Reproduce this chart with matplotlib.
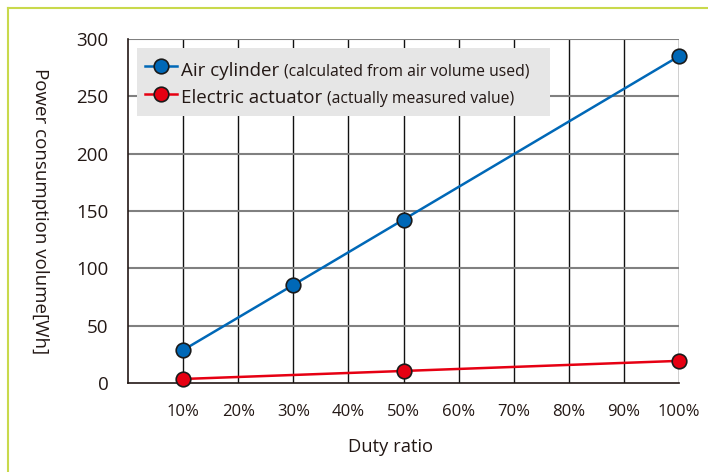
import matplotlib
matplotlib.use("Agg")
import matplotlib.pyplot as plt
from matplotlib.lines import Line2D
from matplotlib.offsetbox import AnchoredOffsetbox, HPacker, VPacker, TextArea, DrawingArea

plt.rcParams['font.family'] = ['Open Sans', 'DejaVu Sans']

duty = [10, 30, 50, 100]
air = [28.7, 85.5, 142.5, 285]
duty_e = [10, 50, 100]
electric = [3.5, 10.5, 19.3]
x_ticks = list(range(0, 101, 10))
x_labels = [''] + [f'{v}%' for v in range(10, 101, 10)]
y_ticks = [0, 50, 100, 150, 200, 250, 300]

BLUE = '#0068b7'
RED = '#e60012'
TXT = '#231815'

fig = plt.figure(figsize=(7.08, 4.72), dpi=100)
bx, by = 7.5 / 708, 1 - 7.5 / 472
fig.lines.append(Line2D([bx, 1], [by, by], transform=fig.transFigure, color='#c9d94c', lw=1.5))
fig.lines.append(Line2D([bx, bx], [0, by], transform=fig.transFigure, color='#c9d94c', lw=1.5))

ax = fig.add_axes([128/708, 1 - 383/472, (679 - 128)/708, (383 - 39)/472])

ax.set_xlim(0, 100)
ax.set_ylim(0, 300)
ax.set_xticks(x_ticks)
ax.set_xticklabels(x_labels)
ax.set_yticks(y_ticks)
ax.tick_params(axis='both', length=0, colors=TXT)
ax.tick_params(axis='x', pad=15, labelsize=12)
ax.tick_params(axis='y', pad=14, labelsize=13.5)
for v in x_ticks[1:]:
    ax.axvline(v, color='#111111', lw=1.0, zorder=1)
for v in y_ticks[1:]:
    ax.axhline(v, color='#808080', lw=1.5, zorder=1)
for s in ['top', 'right']:
    ax.spines[s].set_visible(False)
for s in ['left', 'bottom']:
    ax.spines[s].set_color(TXT)
    ax.spines[s].set_linewidth(1.2)

ax.plot(duty, air, color=BLUE, lw=1.8, marker='o', ms=10.5, mfc=BLUE,
        mec='#1a1a1a', mew=1.2, clip_on=False, zorder=5)
ax.plot(duty_e, electric, color=RED, lw=1.8, marker='o', ms=10.5, mfc=RED,
        mec='#1a1a1a', mew=1.2, clip_on=False, zorder=5)

ax.set_xlabel('Duty ratio', fontsize=13.2, color=TXT)
ax.xaxis.set_label_coords((390 - 128) / 551, -(447 - 383) / 344)
ax.xaxis.label.set_va('center')
ax.set_ylabel('Power consumption volume[Wh]', fontsize=13.5, rotation=270, color=TXT)
ax.yaxis.set_label_coords(-(128 - 40) / 551, 0.5)
ax.yaxis.label.set_va('center')

def row(color, main, paren, extra):
    da = DrawingArea(23, 14, 0, 0)
    da.add_artist(Line2D([0, 23], [7, 7], color=color, lw=1.8))
    da.add_artist(Line2D([11.5], [7], marker='o', ms=10.5, mfc=color, mec='#1a1a1a', mew=1.2))
    t1 = TextArea(main, textprops=dict(fontsize=13.5, color=TXT))
    t2 = TextArea(paren, textprops=dict(fontsize=11.3, color=TXT))
    kids = [da, t1, t2]
    if extra:
        kids.append(DrawingArea(extra, 1, 0, 0))
    return HPacker(children=kids, align='baseline', pad=0, sep=3)

box = VPacker(children=[row(BLUE, 'Air cylinder', '(calculated from air volume used)', 6),
                        row(RED, 'Electric actuator', '(actually measured value)', 0)],
              align='left', pad=0, sep=3)
anch = AnchoredOffsetbox(loc='upper left', child=box, pad=0.6, borderpad=0.65,
                         frameon=True, bbox_to_anchor=(0, 1), bbox_transform=ax.transAxes)
anch.patch.set_facecolor('#e6e6e6')
anch.patch.set_edgecolor('none')
anch.patch.set_boxstyle('square', pad=0)
anch.zorder = 6
ax.add_artist(anch)

fig.savefig('out.png', dpi=100)
